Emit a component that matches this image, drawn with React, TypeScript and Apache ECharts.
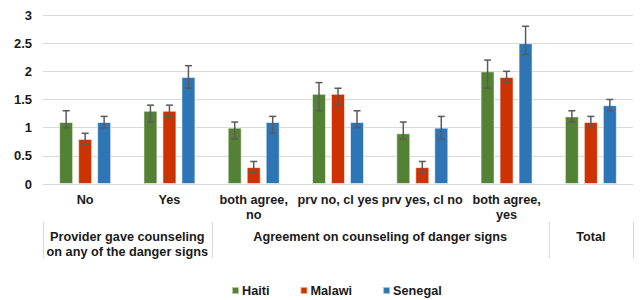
import React, { useEffect, useRef } from "react";
import * as echarts from "echarts";

const categories = ["No", "Yes", "both agree,\nno", "prv no, cl yes", "prv yes, cl no", "both agree,\nyes", ""];
const groups = [
  { label: "Provider gave counseling\non any of the danger signs", span: 2 },
  { label: "Agreement on counseling of danger signs", span: 4 },
  { label: "Total", span: 1 },
];
const seriesNames = ["Haiti", "Malawi", "Senegal"];
const haiti = [1.1, 1.3, 1.0, 1.6, 0.9, 2.0, 1.2];
const haitiLow = [1.0, 1.1, 0.8, 1.3, 0.8, 1.7, 1.1];
const haitiHigh = [1.3, 1.4, 1.1, 1.8, 1.1, 2.2, 1.3];
const malawi = [0.8, 1.3, 0.3, 1.6, 0.3, 1.9, 1.1];
const malawiLow = [0.7, 1.2, 0.2, 1.4, 0.2, 1.8, 1.0];
const malawiHigh = [0.9, 1.4, 0.4, 1.7, 0.4, 2.0, 1.2];
const senegal = [1.1, 1.9, 1.1, 1.1, 1.0, 2.5, 1.4];
const senegalLow = [1.0, 1.7, 0.9, 1.0, 0.8, 2.3, 1.3];
const senegalHigh = [1.2, 2.1, 1.2, 1.3, 1.2, 2.8, 1.5];
const colors = ["#548235", "#CC3300", "#2E75B6"];

const FONT = "'Liberation Sans', Arial, sans-serif";
const TEXT = "#1a1a1a";
const GRID_LEFT = 43;
const GRID_RIGHT = 7;
const GRID_TOP = 15;
const GRID_BOTTOM = 116;
const BAR_W = 15;
const BAR_GAP = 4;

export default function App() {
  const ref = useRef<HTMLDivElement>(null);
  useEffect(() => {
    document.body.style.margin = "0";
    const chart = echarts.init(ref.current!, null, { renderer: "svg" });
    const W = chart.getWidth();
    const H = chart.getHeight();
    const plotW = W - GRID_LEFT - GRID_RIGHT;
    const band = plotW / categories.length;
    const axisY = H - GRID_BOTTOM;
    const row1Bottom = axisY + 38;
    const row2Bottom = axisY + 74;

    const values = [haiti, malawi, senegal];
    const lows = [haitiLow, malawiLow, senegalLow];
    const highs = [haitiHigh, malawiHigh, senegalHigh];

    const barSeries = values.map((v, i) => ({
      name: seriesNames[i],
      type: "bar",
      data: v,
      barWidth: BAR_W - 1,
      barGap: ((BAR_GAP + 1) / (BAR_W - 1)) * 100 + "%",
      itemStyle: { color: colors[i], borderColor: "rgba(255,255,255,0.55)", borderWidth: 1 },
    }));

    const errSeries = values.map((v, i) => ({
      name: seriesNames[i] + " err",
      type: "custom",
      z: 5,
      data: lows[i].map((l, k) => [k, l, highs[i][k]]),
      encode: { x: 0, y: [1, 2] },
      renderItem: (params: any, api: any) => {
        const k = api.value(0);
        const lo = api.coord([k, api.value(1)]);
        const hi = api.coord([k, api.value(2)]);
        const cx = lo[0] + (i - 1) * (BAR_W + BAR_GAP);
        const s = { stroke: "#5a5a5a", lineWidth: 1.5 };
        return {
          type: "group",
          children: [
            { type: "line", shape: { x1: cx, y1: lo[1], x2: cx, y2: hi[1] }, style: s },
            { type: "line", shape: { x1: cx - 3.5, y1: lo[1], x2: cx + 3.5, y2: lo[1] }, style: s },
            { type: "line", shape: { x1: cx - 3.5, y1: hi[1], x2: cx + 3.5, y2: hi[1] }, style: s },
          ],
        };
      },
    }));

    const graphics: any[] = [];
    let start = 0;
    const boundaries = [0];
    groups.forEach((g) => {
      const x0 = GRID_LEFT + start * band;
      const x1 = GRID_LEFT + (start + g.span) * band;
      graphics.push({
        type: "text",
        x: (x0 + x1) / 2,
        y: row1Bottom + 7,
        style: {
          text: g.label,
          fill: TEXT,
          font: `bold 12.7px ${FONT}`,
          align: "center",
          verticalAlign: "top",
          lineHeight: 15.5,
        },
      });
      start += g.span;
      boundaries.push(start);
    });
    boundaries.forEach((b) => {
      const x = Math.round(GRID_LEFT + b * band) + 0.5;
      graphics.push({
        type: "line",
        shape: { x1: x, y1: row1Bottom, x2: x, y2: row2Bottom },
        style: { stroke: "#d9d9d9", lineWidth: 1 },
      });
    });

    chart.setOption({
      animation: false,
      grid: { left: GRID_LEFT, right: GRID_RIGHT, top: GRID_TOP, bottom: GRID_BOTTOM },
      legend: {
        data: seriesNames,
        left: 231,
        top: 284,
        padding: 0,
        icon: "rect",
        itemWidth: 7,
        itemHeight: 7,
        itemGap: 30,
        textStyle: { fontFamily: FONT, fontWeight: "bold", fontSize: 12.7, color: TEXT, padding: [0, 0, 0, -2] },
      },
      xAxis: {
        type: "category",
        data: categories,
        axisLine: { lineStyle: { color: "#d9d9d9" } },
        axisTick: { interval: 0, length: 38, lineStyle: { color: "#d9d9d9" } },
        axisLabel: {
          interval: 0,
          margin: 9,
          fontFamily: FONT,
          fontWeight: "bold",
          fontSize: 12.7,
          color: TEXT,
          lineHeight: 14.5,
          verticalAlign: "top",
        },
      },
      yAxis: {
        type: "value",
        min: 0,
        max: 3,
        interval: 0.5,
        axisLine: { show: false },
        axisTick: { show: false },
        splitLine: { lineStyle: { color: "#d9d9d9" } },
        axisLabel: { margin: 11, fontFamily: FONT, fontWeight: "bold", fontSize: 13, color: TEXT },
      },
      graphic: graphics,
      series: [...barSeries, ...errSeries],
    });
    return () => chart.dispose();
  }, []);
  return <div ref={ref} style={{ width: 640, height: 300 }} />;
}
